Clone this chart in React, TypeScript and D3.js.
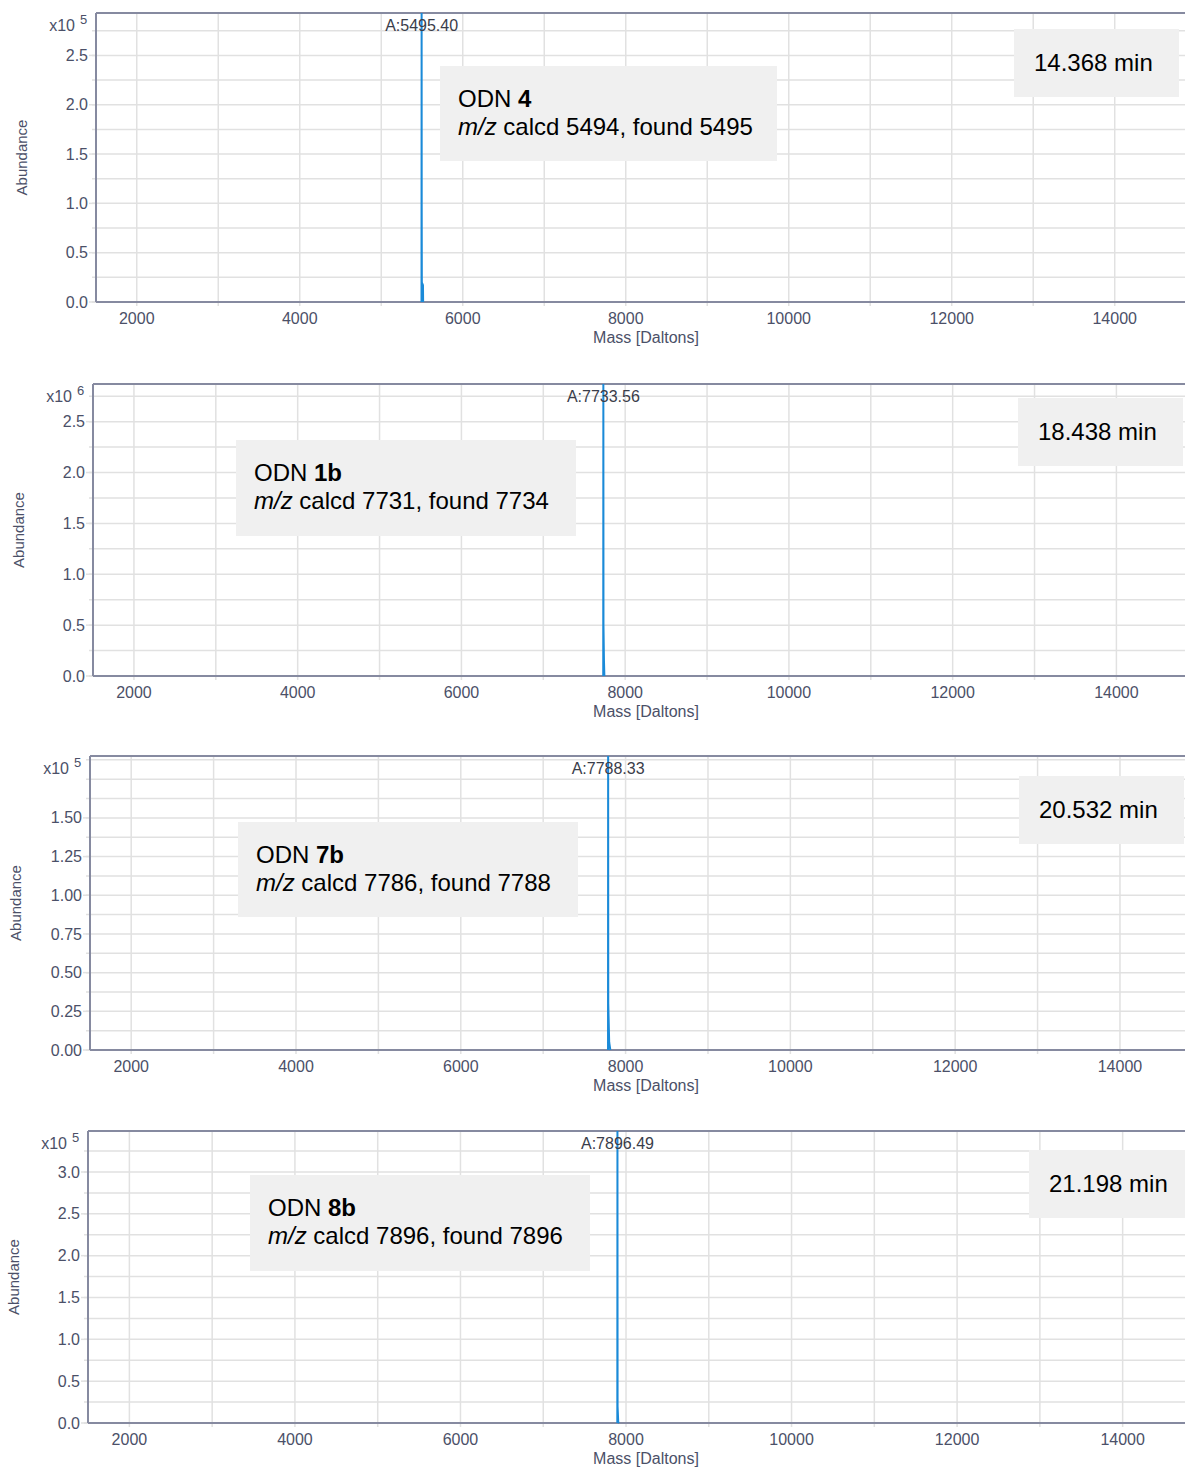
import React from 'react';
import * as d3 from 'd3';

// ---- data ----
const compounds = ['4', '1b', '7b', '8b'];
const calcdMass = [5494, 7731, 7786, 7896];
const foundMass = [5495, 7734, 7788, 7896];
const peakMass = [5495.4, 7733.56, 7788.33, 7896.49];
const retention = ['14.368', '18.438', '20.532', '21.198'];
const exponents = [5, 6, 5, 5];
const yMax = [2.93, 2.87, 1.9, 3.49];
const yTickValues = [
  [0, 0.5, 1.0, 1.5, 2.0, 2.5],
  [0, 0.5, 1.0, 1.5, 2.0, 2.5],
  [0, 0.25, 0.5, 0.75, 1.0, 1.25, 1.5],
  [0, 0.5, 1.0, 1.5, 2.0, 2.5, 3.0],
];
const yMinorStep = [0.25, 0.25, 0.125, 0.25];
const yFormat = ['.1f', '.1f', '.2f', '.1f'];
const massTicks = [2000, 4000, 6000, 8000, 10000, 12000, 14000];
const massGrid = [2000, 3000, 4000, 5000, 6000, 7000, 8000, 9000, 10000, 11000, 12000, 13000, 14000];

// spectrum profile around each peak: [mass, abundance]
const spectrum4: [number, number][] = [
  [5494.0, 0], [5495.4, 2.93], [5496.5, 0.95], [5498.0, 0.2], [5512.0, 0.17], [5514.0, 0],
];
const spectrum1b: [number, number][] = [
  [7732.0, 0], [7733.56, 2.87], [7735.0, 0.5], [7741.0, 0.15], [7746.0, 0],
];
const spectrum7b: [number, number][] = [
  [7787.0, 0], [7788.33, 1.9], [7790.0, 0.3], [7801.0, 0.05], [7815.0, 0],
];
const spectrum8b: [number, number][] = [
  [7895.0, 0], [7896.49, 3.49], [7898.0, 0.2], [7906.0, 0.01], [7916.0, 0],
];
const spectra = [spectrum4, spectrum1b, spectrum7b, spectrum8b];

// ---- layout ----
const layout = [
  { left: 96, right: 1184, top: 13, bottom: 302, box: [440, 66, 337, 95], tbox: [1014, 29, 165, 68] },
  { left: 93, right: 1186, top: 384, bottom: 676, box: [236, 440, 340, 96], tbox: [1018, 398, 165, 68] },
  { left: 90, right: 1190, top: 756, bottom: 1050, box: [238, 822, 340, 95], tbox: [1019, 776, 165, 68] },
  { left: 88, right: 1193, top: 1131, bottom: 1423, box: [250, 1175, 340, 96], tbox: [1029, 1150, 165, 68] },
];

const FONT = 'Arial, "Liberation Sans", Helvetica, sans-serif';
const axisColor = '#868aa0';
const gridColor = '#e1e1e1';
const tickText = '#4b5068';
const peakColor = '#1a8ad8';

const Panel = ({ i }: { i: number }) => {
  const L = layout[i];
  const x = d3.scaleLinear().domain([1500, 14850]).range([L.left, L.right]);
  const y = d3.scaleLinear().domain([0, yMax[i]]).range([L.bottom, L.top]);
  const fmt = d3.format(yFormat[i]);
  const yGrid = d3.range(0, yMax[i], yMinorStep[i]);
  const line = d3
    .line<[number, number]>()
    .x((d) => x(d[0]))
    .y((d) => y(d[1]));
  const [bx, by, bw, bh] = L.box;
  const [tx, ty, tw, th] = L.tbox;

  return (
    <g fontFamily={FONT}>
      {/* grid */}
      {yGrid.map((v) => (
        <line key={'yg' + v} x1={L.left - 4} x2={1185} y1={y(v)} y2={y(v)} stroke={gridColor} strokeWidth={1.5} />
      ))}
      {massGrid.map((v) => (
        <line key={'xg' + v} x1={x(v)} x2={x(v)} y1={L.top} y2={L.bottom + 4} stroke={gridColor} strokeWidth={1.5} />
      ))}
      {/* major y ticks */}
      {yTickValues[i].map((v) => (
        <g key={'yt' + v}>
          <line x1={L.left - 7} x2={L.left} y1={y(v)} y2={y(v)} stroke={gridColor} strokeWidth={1.5} />
          <text x={L.left - 8} y={y(v)} dy="0.35em" textAnchor="end" fontSize={16} fill={tickText}>
            {fmt(v)}
          </text>
        </g>
      ))}
      {/* x tick labels */}
      {massTicks.map((v) => (
        <text key={'xt' + v} x={x(v)} y={L.bottom + 22} textAnchor="middle" fontSize={16} fill={tickText}>
          {v}
        </text>
      ))}
      {/* frame */}
      <line x1={L.left} x2={1185} y1={L.top} y2={L.top} stroke={axisColor} strokeWidth={2} />
      <line x1={L.left} x2={L.left} y1={L.top} y2={L.bottom} stroke={axisColor} strokeWidth={2} />
      <line x1={L.left} x2={1185} y1={L.bottom} y2={L.bottom} stroke={axisColor} strokeWidth={2} />
      {/* exponent */}
      <text x={L.left - 21} y={L.top + 18} textAnchor="end" fontSize={16} fill={tickText}>
        x10
      </text>
      <text x={L.left - 16} y={L.top + 11} fontSize={13} fill={tickText}>
        {exponents[i]}
      </text>
      {/* axis titles */}
      <text
        transform={`translate(${L.left - 69},${(L.top + L.bottom) / 2}) rotate(-90)`}
        textAnchor="middle"
        fontSize={15}
        fill={tickText}
      >
        Abundance
      </text>
      <text x={646} y={L.bottom + 41} textAnchor="middle" fontSize={16} fill={tickText}>
        Mass [Daltons]
      </text>
      {/* spectrum */}
      <path d={line(spectra[i]) || ''} fill="none" stroke={peakColor} strokeWidth={2} />
      <text x={x(peakMass[i])} y={L.top + 18} textAnchor="middle" fontSize={16} fill="#3a3d4a">
        {'A:' + peakMass[i].toFixed(2)}
      </text>
      {/* annotation */}
      <rect x={bx} y={by} width={bw} height={bh} fill="#f0f0f0" />
      <text x={bx + 18} y={by + 41} fontSize={24} fill="#000">
        ODN <tspan fontWeight="bold">{compounds[i]}</tspan>
      </text>
      <text x={bx + 18} y={by + 69} fontSize={24} fill="#000">
        <tspan fontStyle="italic">m/z</tspan>
        {` calcd ${calcdMass[i]}, found ${foundMass[i]}`}
      </text>
      <rect x={tx} y={ty} width={tw} height={th} fill="#f0f0f0" />
      <text x={tx + 20} y={ty + 42} fontSize={24} fill="#000">
        {retention[i] + ' min'}
      </text>
    </g>
  );
};

const App = () => {
  return (
    <div style={{ position: 'absolute', left: 0, top: 0 }}>
      <svg width={1185} height={1469} style={{ display: 'block', background: '#fff' }}>
        {compounds.map((_, i) => (
          <Panel key={i} i={i} />
        ))}
      </svg>
    </div>
  );
};

export default App;
